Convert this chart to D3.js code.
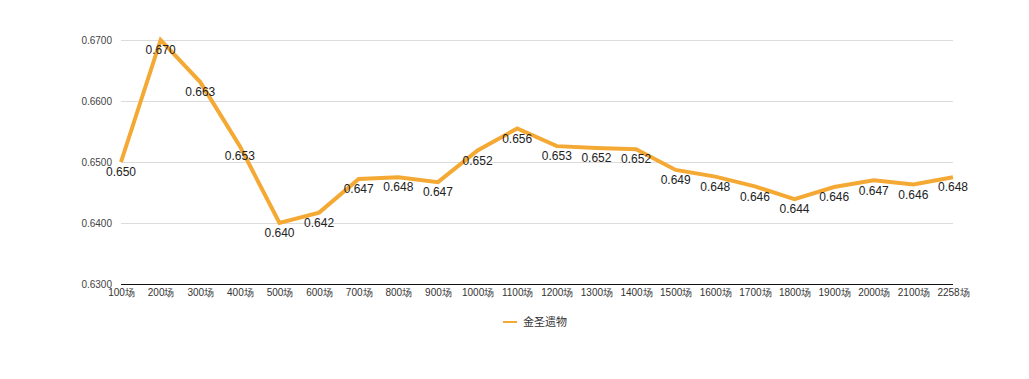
<!DOCTYPE html>
<html><head><meta charset="utf-8">
<script src="https://cdn.jsdelivr.net/npm/d3@7/dist/d3.min.js"></script>
<style>body{margin:0;background:#fff}svg{display:block;font-family:"Liberation Sans",Arial,sans-serif}</style>
</head><body><svg id="c" width="1029" height="379"></svg>
<script>
const categories = ["100场","200场","300场","400场","500场","600场","700场","800场","900场","1000场","1100场","1200场","1300场","1400场","1500场","1600场","1700场","1800场","1900场","2000场","2100场","2258场"];
const values = [0.6500,0.6700,0.6631,0.6526,0.6400,0.6417,0.6472,0.6475,0.6467,0.6519,0.6555,0.6526,0.6523,0.6521,0.6487,0.6476,0.6460,0.6439,0.6459,0.6470,0.6463,0.6475];
const labels = ["0.650","0.670","0.663","0.653","0.640","0.642","0.647","0.648","0.647","0.652","0.656","0.653","0.652","0.652","0.649","0.648","0.646","0.644","0.646","0.647","0.646","0.648"];
const yTicks = [0.63,0.64,0.65,0.66,0.67];
const seriesName = "金圣遗物";

(function(){
const svg = d3.select("#c");
const pL = 121, pR = 953, pT = 40, pB = 284;
const x = d3.scalePoint().domain(categories).range([pL, pR]);
const y = d3.scaleLinear().domain([0.63, 0.67]).range([pB, pT]);
const color = "#f4a934";

// gridlines
svg.append("g").selectAll("line").data(yTicks.slice(1)).join("line")
  .attr("x1", pL).attr("x2", pR).attr("y1", d => Math.round(y(d))+0.5).attr("y2", d => Math.round(y(d))+0.5)
  .attr("stroke", "#dcdcdc").attr("stroke-width", 1);

// y axis labels
const yAxis = d3.axisLeft(y).tickValues(yTicks).tickFormat(d3.format(".4f")).tickSize(0).tickPadding(9);
const gy = svg.append("g").attr("transform", `translate(${pL},0)`).call(yAxis);
gy.select(".domain").remove();
gy.selectAll("text").attr("font-size", 10).attr("fill", "#444").attr("font-family","Liberation Sans, Arial, sans-serif");

// x axis
const xAxis = d3.axisBottom(x).tickSize(0).tickPadding(5);
const gx = svg.append("g").attr("transform", `translate(0,${pB})`).call(xAxis);
gx.select(".domain").attr("d", `M${pL},0.5H${pR}`).attr("stroke", "#111").attr("stroke-width",1);
gx.selectAll("text").attr("font-size", 10).attr("fill", "#333").attr("font-family","Liberation Sans, Arial, sans-serif");

// line
const line = d3.line().x((d,i) => x(categories[i])).y(d => y(d));
svg.append("path").datum(values).attr("d", line).attr("fill", "none")
  .attr("stroke", color).attr("stroke-width", 4).attr("stroke-linejoin","miter");

// data labels
svg.append("g").selectAll("text").data(values).join("text")
  .attr("x", (d,i) => x(categories[i]))
  .attr("y", d => y(d) + 10)
  .attr("dy", "0.35em")
  .attr("text-anchor", "middle")
  .attr("font-size", 12).attr("fill", "#222")
  .text((d,i) => labels[i]);

// legend
const lg = svg.append("g").attr("transform", "translate(503,322)");
lg.append("line").attr("x1",0).attr("x2",14).attr("y1",0).attr("y2",0).attr("stroke",color).attr("stroke-width",2);
lg.append("text").attr("x", 20).attr("y", 0).attr("dy","0.35em").attr("font-size", 11)
  .attr("fill", "#333").attr("font-family", "Noto Sans CJK SC, sans-serif").text(seriesName);
})();
</script></body></html>
